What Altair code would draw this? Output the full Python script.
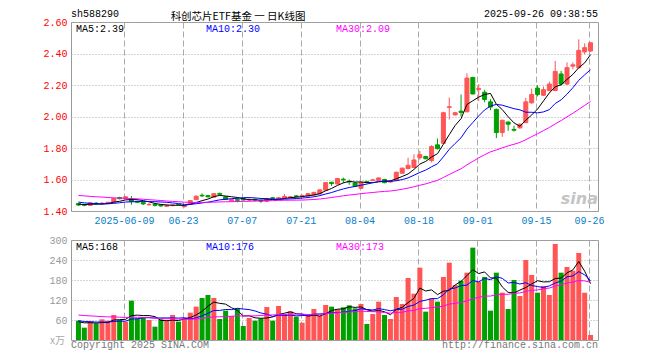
import altair as alt
import pandas as pd
import numpy as np

# ---------------- data ----------------
opens = [1.448, 1.440, 1.436, 1.450, 1.446, 1.448, 1.456, 1.486, 1.478, 1.474,
         1.462, 1.455, 1.440, 1.442, 1.438, 1.430, 1.434, 1.442, 1.428, 1.446,
         1.472, 1.500, 1.498, 1.488, 1.512, 1.490, 1.464, 1.472, 1.478, 1.470,
         1.474, 1.468, 1.462, 1.484, 1.476, 1.480, 1.484, 1.496, 1.494, 1.496,
         1.502, 1.508, 1.532, 1.582, 1.572, 1.602, 1.588, 1.578, 1.544, 1.586,
         1.594, 1.594, 1.600, 1.584, 1.594, 1.640, 1.670, 1.676, 1.738, 1.746,
         1.720, 1.820, 1.830, 2.058, 2.010, 2.034, 2.030, 2.248, 2.172, 2.154,
         2.093, 2.045, 1.898, 1.965, 1.918, 1.928, 1.961, 2.087, 2.180, 2.135,
         2.165, 2.165, 2.270, 2.206, 2.320, 2.310, 2.410, 2.416]
highs = [1.452, 1.446, 1.456, 1.456, 1.458, 1.458, 1.482, 1.490, 1.494, 1.495,
         1.466, 1.458, 1.450, 1.446, 1.440, 1.440, 1.442, 1.446, 1.436, 1.470,
         1.498, 1.512, 1.502, 1.512, 1.516, 1.492, 1.476, 1.488, 1.482, 1.480,
         1.478, 1.472, 1.484, 1.488, 1.488, 1.508, 1.494, 1.502, 1.504, 1.514,
         1.522, 1.538, 1.584, 1.586, 1.610, 1.612, 1.600, 1.582, 1.584, 1.592,
         1.602, 1.614, 1.604, 1.596, 1.650, 1.676, 1.738, 1.760, 1.782, 1.750,
         1.818, 1.860, 2.030, 2.120, 2.030, 2.140, 2.275, 2.252, 2.206, 2.170,
         2.110, 2.050, 1.980, 1.968, 1.942, 1.956, 2.118, 2.177, 2.200, 2.190,
         2.222, 2.353, 2.290, 2.344, 2.344, 2.490, 2.464, 2.470]
lows = [1.432, 1.430, 1.432, 1.440, 1.442, 1.444, 1.454, 1.474, 1.475, 1.440,
        1.450, 1.438, 1.432, 1.428, 1.426, 1.426, 1.430, 1.436, 1.422, 1.444,
        1.470, 1.488, 1.486, 1.484, 1.500, 1.470, 1.460, 1.455, 1.466, 1.464,
        1.462, 1.452, 1.456, 1.474, 1.472, 1.476, 1.480, 1.486, 1.490, 1.492,
        1.500, 1.506, 1.530, 1.560, 1.568, 1.578, 1.566, 1.552, 1.540, 1.576,
        1.590, 1.592, 1.576, 1.580, 1.590, 1.636, 1.664, 1.672, 1.726, 1.728,
        1.708, 1.790, 1.826, 1.980, 2.006, 2.000, 2.026, 2.140, 2.097, 2.090,
        2.040, 1.863, 1.871, 1.909, 1.905, 1.922, 1.958, 2.080, 2.128, 2.130,
        2.160, 2.160, 2.196, 2.200, 2.300, 2.305, 2.396, 2.410]
closes = [1.438, 1.436, 1.452, 1.446, 1.449, 1.455, 1.480, 1.478, 1.490, 1.460,
          1.455, 1.445, 1.442, 1.436, 1.432, 1.436, 1.438, 1.440, 1.432, 1.466,
          1.494, 1.496, 1.490, 1.510, 1.506, 1.474, 1.472, 1.468, 1.470, 1.474,
          1.470, 1.462, 1.478, 1.480, 1.484, 1.492, 1.490, 1.492, 1.498, 1.510,
          1.518, 1.534, 1.580, 1.574, 1.606, 1.598, 1.584, 1.556, 1.580, 1.582,
          1.598, 1.610, 1.580, 1.588, 1.646, 1.672, 1.690, 1.724, 1.758, 1.732,
          1.810, 1.796, 2.024, 2.062, 2.024, 2.026, 2.244, 2.143, 2.178, 2.108,
          2.060, 1.898, 1.976, 1.951, 1.913, 1.951, 2.093, 2.140, 2.140, 2.170,
          2.206, 2.286, 2.206, 2.310, 2.328, 2.420, 2.437, 2.468]
volumes = [58, 37, 55, 50, 62, 58, 75, 60, 55, 118,
           65, 68, 60, 40, 62, 60, 75, 55, 65, 82,
           100, 126, 135, 126, 63, 88, 72, 95, 42, 66,
           58, 65, 99, 58, 102, 78, 86, 70, 52, 72,
           93, 72, 105, 100, 92, 98, 104, 95, 108, 48,
           78, 115, 75, 63, 129, 108, 186, 139, 217, 85,
           125, 115, 189, 232, 165, 178, 202, 277, 175, 189,
           88, 202, 142, 93, 180, 132, 240, 195, 142, 162,
           135, 288, 202, 219, 208, 261, 142, 15]
# estimated sessions before the visible window (only seed the moving averages)
prior_closes = [1.53, 1.54, 1.52, 1.51, 1.53, 1.55, 1.54, 1.52, 1.50, 1.51,
                1.53, 1.52, 1.51, 1.52, 1.53, 1.51, 1.50, 1.52, 1.51, 1.50,
                1.49, 1.48, 1.47, 1.46, 1.45, 1.45, 1.44, 1.445, 1.445]
prior_volumes = [90, 78, 85, 95, 82, 76, 88, 80, 92, 75,
                 84, 79, 86, 90, 81, 77, 83, 85, 78, 86,
                 64, 58, 62, 60, 61, 55, 52, 56, 54]

tick_idx = [8, 18, 28, 38, 48, 58, 68, 78, 87]
tick_labels = ["2025-06-09", "06-23", "07-07", "07-21", "08-04",
               "08-18", "09-01", "09-15", "09-26"]
price_ticks = [1.40, 1.60, 1.80, 2.00, 2.20, 2.40, 2.60]
vol_ticks = [0, 60, 120, 180, 240, 300]
ma_names = ["MA5", "MA10", "MA30"]
ma_windows = [5, 10, 30]
price_legend = ["MA5:2.39", "MA10:2.30", "MA30:2.09"]
vol_legend = ["MA5:168", "MA10:176", "MA30:173"]
code_text = "sh588290"
title_text = "科创芯片ETF基金 一 日K线图"
time_text = "2025-09-26 09:38:55"
copyright_text = "Copyright 2025 SINA.COM"
url_text = "http://finance.sina.com.cn"
unit_text = "x万"

# ---------------- styles ----------------
W, H1, H2 = 527, 189, 100
MONO = "Liberation Mono"
CJK = "Noto Sans CJK SC"
RED, GREEN = "#ff5555", "#00a000"
ma_colors = ["#000000", "#0000ff", "#ff00ff"]
GRID = "#aaaaaa"

n = len(closes)
df = pd.DataFrame({"i": list(range(n)), "open": opens, "high": highs,
                   "low": lows, "close": closes, "vol": volumes})
df["dir"] = np.where(df["close"] >= df["open"], "up", "down")

P = len(prior_closes)
cs = pd.Series(prior_closes + closes, dtype=float)
vs = pd.Series(prior_volumes + volumes, dtype=float)
rows_p, rows_v = [], []
for name, w in zip(ma_names, ma_windows):
    mp = cs.rolling(w).mean().to_numpy()[P:]
    mv = vs.rolling(w).mean().to_numpy()[P:]
    for i in range(n):
        rows_p.append({"i": i, "v": float(mp[i]), "s": name})
        rows_v.append({"i": i, "v": float(mv[i]), "s": name})
ma_p = pd.DataFrame(rows_p)
ma_v = pd.DataFrame(rows_v)

d0 = -2.5 / 6
xscale = alt.Scale(domain=[d0, d0 + W / 6], nice=False, zero=False)
dir_scale = alt.Scale(domain=["up", "down"], range=[RED, GREEN])
ma_scale = alt.Scale(domain=ma_names, range=ma_colors)
pscale = alt.Scale(domain=[1.4, 2.6], nice=False, zero=False)
vscale = alt.Scale(domain=[0, 300], nice=False, zero=False)

grid_vals = [t - 0.25 for t in tick_idx]
label_expr = ("[" + ",".join("'%s'" % t for t in tick_labels) + "][indexof(["
              + ",".join(repr(v) for v in grid_vals) + "], datum.value)]")

x_top_axis = alt.Axis(values=grid_vals, labelExpr=label_expr, title=None,
                      ticks=False, domain=False, grid=True, gridColor=GRID,
                      gridDash=[6, 3], labelColor="#0a7ecb", labelFont=MONO,
                      labelFontSize=10, labelPadding=4, labelAngle=0,
                      labelFlush=False, labelOverlap=False,
                      minExtent=20, maxExtent=20)
x_bot_axis = alt.Axis(values=grid_vals, title=None, labels=False, ticks=False,
                      domain=False, grid=True, gridColor=GRID, gridDash=[6, 3],
                      minExtent=0, maxExtent=0)
y_top_axis = alt.Axis(values=price_ticks, format=".2f", title=None, ticks=False,
                      domain=False, grid=True, gridColor=GRID, gridDash=[1, 2],
                      labelColor="#ff0000", labelFont=MONO, labelFontSize=10,
                      labelPadding=4, labelFlush=False,
                      minExtent=40, maxExtent=40)
y_bot_axis = alt.Axis(values=vol_ticks, title=None, ticks=False, domain=False,
                      grid=True, gridColor=GRID, gridDash=[1, 2],
                      labelExpr="datum.value == 0 ? '' : datum.label",
                      labelColor="#999999", labelFont=MONO, labelFontSize=10,
                      labelPadding=4, labelFlush=False,
                      minExtent=40, maxExtent=40)


def txt(s, x, y, color="#000000", align="left", font=MONO, size=10, **kw):
    return alt.Chart(pd.DataFrame({"t": [s]})).mark_text(
        align=align, baseline="alphabetic", font=font, fontSize=size,
        color=color, **kw).encode(text="t:N", x=alt.value(x), y=alt.value(y))


# ---------------- top (price) panel ----------------
base = alt.Chart(df)
wick = base.mark_rule(strokeWidth=1).encode(
    x=alt.X("i:Q", scale=xscale, axis=x_top_axis),
    y=alt.Y("low:Q", scale=pscale, axis=y_top_axis),
    y2="high:Q",
    color=alt.Color("dir:N", scale=dir_scale, legend=None))
body = base.mark_bar(size=4, strokeWidth=1).encode(
    x=alt.X("i:Q", scale=xscale, axis=x_top_axis),
    y=alt.Y("open:Q", scale=pscale, axis=y_top_axis),
    y2="close:Q",
    fill=alt.Fill("dir:N", scale=dir_scale, legend=None),
    stroke=alt.Stroke("dir:N", scale=dir_scale, legend=None))
pline = alt.Chart(ma_p).mark_line(strokeWidth=1).encode(
    x=alt.X("i:Q", scale=xscale, axis=x_top_axis),
    y=alt.Y("v:Q", scale=pscale, axis=y_top_axis),
    color=alt.Color("s:N", scale=ma_scale, legend=None))

top_layers = [wick, body, pline]
for s, x, c in zip(price_legend, [5, 135, 265], ma_colors):
    top_layers.append(txt(s, x, 9.6, c))
top_layers.append(txt(code_text, 0, -5))
top_layers.append(txt(title_text, 167, -1.7, font=CJK, size=10.5,
                      align="center"))
top_layers.append(txt(time_text, W, -5, align="right"))
top_layers.append(txt("sina", W, 182, color="#c4c4c4", align="right",
                      font="DejaVu Sans", size=16, fontStyle="italic",
                      fontWeight="bold"))
top = alt.layer(*top_layers).resolve_scale(color="independent").properties(
    width=W, height=H1)

# ---------------- bottom (volume) panel ----------------
vbars = alt.Chart(df).mark_bar(size=5).encode(
    x=alt.X("i:Q", scale=xscale, axis=x_bot_axis),
    y=alt.Y("vol:Q", scale=vscale, axis=y_bot_axis),
    color=alt.Color("dir:N", scale=dir_scale, legend=None))
vline = alt.Chart(ma_v).mark_line(strokeWidth=1).encode(
    x=alt.X("i:Q", scale=xscale, axis=x_bot_axis),
    y=alt.Y("v:Q", scale=vscale, axis=y_bot_axis),
    color=alt.Color("s:N", scale=ma_scale, legend=None))
bot_layers = [vbars, vline]
for s, x, c in zip(vol_legend, [5, 135, 265], ma_colors):
    bot_layers.append(txt(s, x, 10, c))
bot_layers.append(txt(unit_text, -21, 104, color="#aaaaaa", font=CJK, size=10))
bot_layers.append(txt(copyright_text, 0, 108, color="#777777"))
bot_layers.append(txt(url_text, W, 108, color="#777777", align="right"))
bottom = alt.layer(*bot_layers).resolve_scale(color="independent").properties(
    width=W, height=H2)

chart = alt.vconcat(top, bottom, spacing=2).properties(
    padding={"left": 22, "top": 0, "right": 4, "bottom": 2},
    background="#ffffff",
).configure_view(stroke="#999999", strokeWidth=1)

chart.save("out.html", embed_options={"renderer": "svg", "actions": False})
